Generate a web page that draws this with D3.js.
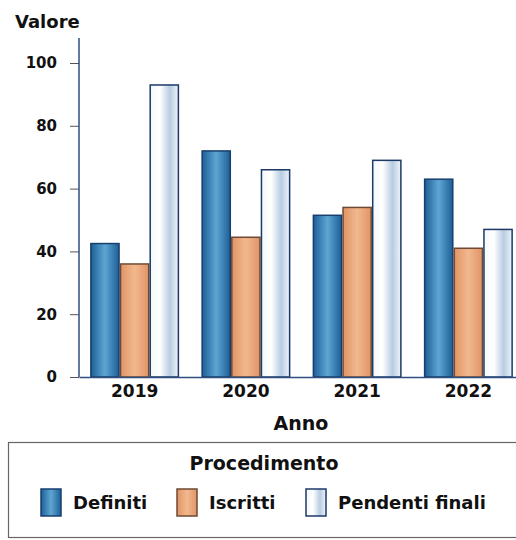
<!DOCTYPE html>
<html>
<head>
<meta charset="utf-8">
<script src="https://cdn.jsdelivr.net/npm/d3@7"></script>
<style>
  body { margin: 0; background: #fff; }
  svg { display: block; }
  text { font-family: "DejaVu Sans", sans-serif; font-weight: bold; fill: #111; }
</style>
</head>
<body>
<svg id="chart"></svg>
<script>
var width = 516,
    height = 540

// data
var anni = ["2019", "2020", "2021", "2022"];
var serie = ["Definiti", "Iscritti", "Pendenti finali"];
var definiti = [42.5, 72, 51.5, 63];
var iscritti = [36, 44.5, 54, 41];
var pendenti = [93, 66, 69, 47];
var yTicks = [0, 20, 40, 60, 80, 100];

var valori = [definiti, iscritti, pendenti];

var svg = d3.select("svg#chart")
    .attr("width", width)
    .attr("height", height);

var defs = svg.append("defs");

function grad(id, stops) {
    var g = defs.append("linearGradient")
        .attr("id", id)
        .attr("x1", "0%").attr("x2", "100%")
        .attr("y1", "0%").attr("y2", "0%");
    g.selectAll("stop")
        .data(stops)
        .enter().append("stop")
        .attr("offset", function(d) { return d[0]; })
        .attr("stop-color", function(d) { return d[1]; });
}
grad("g0", [["0%", "#1d5f97"], ["50%", "#5ea6d2"], ["100%", "#1d5f97"]]);
grad("g1", [["0%", "#e09466"], ["50%", "#f2b88e"], ["100%", "#e09466"]]);
grad("g2", [["0%", "#f4f8fc"], ["35%", "#ffffff"], ["70%", "#b8cde2"], ["100%", "#eef3f9"]]);

var fills = ["url(#g0)", "url(#g1)", "url(#g2)"];
var strokes = ["#173f6e", "#6e4a34", "#1c3a68"];

var x0 = d3.scaleBand()
    .domain(anni)
    .range([79, 524])
    .paddingInner(0.2)
    .paddingOuter(0.1);

var x1 = d3.scaleBand()
    .domain(serie)
    .range([0, x0.bandwidth()]);

var y = d3.scaleLinear()
    .domain([0, 100])
    .range([377, 63]);

// bars
var groups = svg.selectAll("g.anno")
    .data(anni)
    .enter()
    .append("g")
    .attr("class", "anno")
    .attr("transform", function(d) { return "translate(" + x0(d) + ",0)"; });

groups.selectAll("rect")
    .data(function(d, i) {
        return serie.map(function(s, j) { return { s: s, j: j, v: valori[j][i] }; });
    })
    .enter()
    .append("rect")
    .attr("x", function(d) { return x1(d.s) + 0.75; })
    .attr("y", function(d) { return y(d.v); })
    .attr("width", x1.bandwidth() - 1.5)
    .attr("height", function(d) { return y(0) - y(d.v); })
    .attr("fill", function(d) { return fills[d.j]; })
    .attr("stroke", function(d) { return strokes[d.j]; })
    .attr("stroke-width", 1.5);

// y axis
var yAxis = svg.append("g")
    .attr("transform", "translate(79,0)")
    .call(d3.axisLeft(y).tickValues(yTicks).tickSize(9).tickPadding(13))
    .attr("font-family", "DejaVu Sans, sans-serif")
    .attr("font-size", 15)
    .attr("font-weight", "bold");
yAxis.select(".domain").remove();
yAxis.selectAll("line").attr("stroke", "#555");
yAxis.selectAll("text").attr("fill", "#111");

svg.append("line")
    .attr("x1", 79).attr("x2", 79)
    .attr("y1", 38).attr("y2", 377)
    .attr("stroke", "#2c4f80")
    .attr("stroke-width", 1.5);

// x axis
var xAxis = svg.append("g")
    .attr("transform", "translate(0,377)")
    .call(d3.axisBottom(x0).tickSize(0).tickPadding(8))
    .attr("font-family", "DejaVu Sans, sans-serif")
    .attr("font-size", 17)
    .attr("font-weight", "bold");
xAxis.select(".domain")
    .attr("stroke", "#2c4f80")
    .attr("stroke-width", 1.5);
xAxis.selectAll("text").attr("fill", "#111");

// titles
svg.append("text")
    .attr("x", 15)
    .attr("y", 28)
    .style("font-size", "18px")
    .text("Valore");

svg.append("text")
    .attr("x", 301)
    .attr("y", 430)
    .attr("text-anchor", "middle")
    .style("font-size", "19px")
    .text("Anno");

// legend
svg.append("rect")
    .attr("x", 8.5)
    .attr("y", 442.5)
    .attr("width", 520)
    .attr("height", 95)
    .attr("fill", "#fff")
    .attr("stroke", "#666")
    .attr("stroke-width", 1.2);

svg.append("text")
    .attr("x", 264)
    .attr("y", 470)
    .attr("text-anchor", "middle")
    .style("font-size", "19px")
    .text("Procedimento");

var legX = [41, 177, 306];
var leg = svg.selectAll("g.leg")
    .data(serie)
    .enter()
    .append("g")
    .attr("class", "leg")
    .attr("transform", function(d, i) { return "translate(" + legX[i] + ",489)"; });

leg.append("rect")
    .attr("width", 20)
    .attr("height", 27)
    .attr("fill", function(d, i) { return fills[i]; })
    .attr("stroke", function(d, i) { return strokes[i]; })
    .attr("stroke-width", 1.5);

leg.append("text")
    .attr("x", 32)
    .attr("y", 20)
    .style("font-size", "18px")
    .text(function(d) { return d; });
</script>
</body>
</html>
